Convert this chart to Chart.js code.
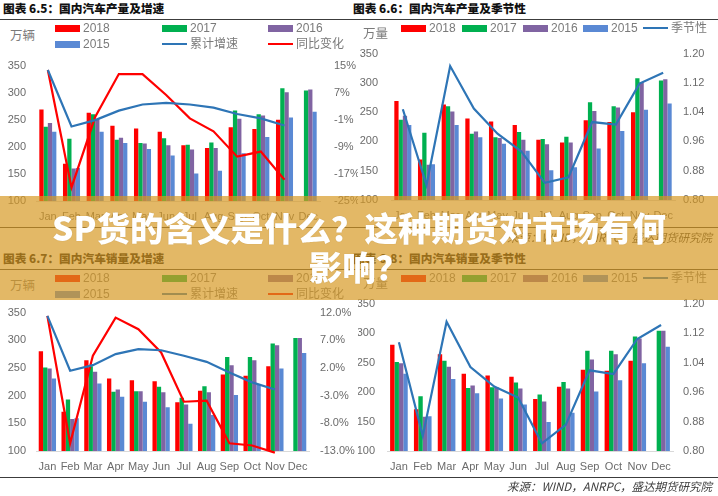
<!DOCTYPE html>
<html><head><meta charset="utf-8">
<script src="https://cdn.jsdelivr.net/npm/chart.js@4.4.1/dist/chart.umd.min.js"></script>
<style>
html,body{margin:0;padding:0;background:#fff;}
#root{position:relative;width:718px;height:496px;overflow:hidden;font-family:"Liberation Sans","Noto Sans CJK SC",sans-serif;}
.abs{position:absolute;white-space:nowrap;}
.title{font-family:"Noto Sans CJK SC",sans-serif;font-weight:900;font-size:11.7px;color:#111;line-height:16px;}
.rule{position:absolute;height:1px;background:#3c3c3c;}
.lg{font-family:"Liberation Sans","Noto Sans CJK SC",sans-serif;font-size:12px;color:#7a7a7a;line-height:14px;}
.unit{font-family:"Noto Sans CJK SC",sans-serif;font-size:12.5px;color:#7a7a7a;line-height:14px;}
.src{font-family:"Noto Sans CJK SC",sans-serif;font-style:italic;font-size:11.5px;color:#404040;line-height:14px;}
canvas.cv{position:absolute;}
#banner{position:absolute;left:0;top:196px;width:718px;height:104px;background:rgba(214,152,33,0.69);z-index:10;}
#bannerText{position:absolute;left:0;top:11px;width:718px;text-align:center;color:#fff;font-family:"Noto Sans CJK SC",sans-serif;font-weight:900;font-size:33.5px;line-height:39px;text-shadow:0 0 1px rgba(120,80,0,0.35);}
</style>
</head>
<body>
<div id="root">
  <canvas id="cA" class="cv"></canvas>
  <canvas id="cB" class="cv"></canvas>
  <canvas id="cC" class="cv"></canvas>
  <canvas id="cD" class="cv"></canvas>
  <div id="banner"><div id="bannerText">SP货的含义是什么？这种期货对市场有何<br>影响？</div></div>
</div>
<script>
// ---------- data ----------
const months = ['Jan','Feb','Mar','Apr','May','Jun','Jul','Aug','Sep','Oct','Nov','Dec'];
const years = ['2018','2017','2016','2015'];
const lineNamesGrowth = ['累计增速','同比变化'];
const lineNameSeason = '季节性';
const titles = ['图表 6.5：国内汽车产量及增速','图表 6.6：国内汽车产量及季节性','图表 6.7：国内汽车销量及增速','图表 6.8：国内汽车销量及季节性'];
const units = ['万辆','万量','万辆','万量'];
const sourceText = '来源：WIND，ANRPC，盛达期货研究院';

// production (万辆)
const prod2018 = [269,169,263,239,234,228,203,198,236,233,250,null];
const prod2017 = [237,215,260,213,207,216,204,208,267,260,308,304];
const prod2016 = [244,160,251,217,206,203,195,198,252,258,301,306];
const prod2015 = [228,161,228,207,196,184,151,156,188,218,254,265];
const prodCumGrowth = [13.7,-3.0,-1.1,1.7,3.5,4.0,3.5,2.6,0.7,-0.6,-2.7,null];
const prodYoY = [13.7,-21.0,-0.2,12.5,12.5,6.3,-0.6,-4.4,-11.9,-10.4,-18.7,null];
const prodSeason = [1.048,0.841,1.166,1.050,0.981,0.933,0.847,0.862,1.013,1.006,1.118,1.148];

// sales (万辆)
const sales2018 = [280,171,264,231,228,226,188,209,238,236,253,null];
const sales2017 = [251,193,253,207,208,216,196,217,270,270,294,304];
const sales2016 = [249,158,243,211,208,206,184,206,255,264,291,304];
const sales2015 = [231,159,222,198,189,179,149,165,201,220,249,277];
const salesCumGrowth = [11.4,1.5,2.5,4.5,5.4,5.2,4.2,3.1,1.2,-0.6,-1.9,null];
const salesYoY = [11.4,-11.6,4.2,11.1,9.0,4.8,-4.1,-3.9,-11.6,-12.0,-13.3,null];
const salesSeason = [1.095,0.841,1.151,1.028,0.975,0.945,0.821,0.871,1.019,1.009,1.104,1.142];

// tick labels
const volTicks = [100,150,200,250,300,350];
const prodPctTicks = [-25,-17,-9,-1,7,15];
const salesPctTicks = [-13,-8,-3,2,7,12];
const seasonTicks = [0.80,0.88,0.96,1.04,1.12,1.20];

// ---------- styling ----------
const C_RED='#FF0000', C_GREEN='#00B050', C_PURPLE='#8064A2', C_BLUE='#5A89D4', C_LINEBLUE='#2E75B6', C_LINERED='#FF0000';
const barColors=[C_RED,C_GREEN,C_PURPLE,C_BLUE];
const tickFont={family:'"Liberation Sans",sans-serif',size:11};
const tickColor='#6b6b6b';
const root=document.getElementById('root');

function addDiv(cls,text,style){const d=document.createElement('div');d.className='abs '+cls;d.textContent=text;Object.assign(d.style,style);root.appendChild(d);return d;}
function addRule(l,t,w){const d=document.createElement('div');d.className='rule';Object.assign(d.style,{left:l+'px',top:t+'px',width:w+'px'});root.appendChild(d);}
function legendItem(x,yc,color,kind,label){
  const sw=document.createElement('div');sw.className='sw abs';
  if(kind==='bar'){Object.assign(sw.style,{left:x+'px',top:(yc-3.5)+'px',width:'25px',height:'7px',background:color});}
  else{Object.assign(sw.style,{left:x+'px',top:(yc-1)+'px',width:'25px',height:'2px',background:color});}
  root.appendChild(sw);
  addDiv('lg',label,{left:(x+28)+'px',top:(yc-7)+'px'});
}

// titles, rules, units, sources
addDiv('title',titles[0],{left:'3px',top:'0px'});
addDiv('title',titles[1],{left:'353px',top:'0px'});
addDiv('title',titles[2],{left:'3px',top:'250px'});
addDiv('title',titles[3],{left:'353px',top:'250px'});
addRule(0,19,718);addRule(0,227,718);addRule(0,269,718);addRule(0,477,718);
addDiv('unit',units[0],{left:'10px',top:'28px'});
addDiv('unit',units[1],{left:'363px',top:'26px'});
addDiv('unit',units[2],{left:'10px',top:'278px'});
addDiv('unit',units[3],{left:'363px',top:'276px'});
addDiv('src',sourceText,{right:'6px',top:'230px'});
addDiv('src',sourceText,{right:'6px',top:'479px'});

// legends
function growthLegend(y0){
  const cols=[55,162,268];
  legendItem(cols[0],y0,C_RED,'bar',years[0]);
  legendItem(cols[1],y0,C_GREEN,'bar',years[1]);
  legendItem(cols[2],y0,C_PURPLE,'bar',years[2]);
  legendItem(cols[0],y0+16,C_BLUE,'bar',years[3]);
  legendItem(cols[1],y0+16,C_LINEBLUE,'line',lineNamesGrowth[0]);
  legendItem(cols[2],y0+16,C_LINERED,'line',lineNamesGrowth[1]);
}
function seasonLegend(y0){
  const xs=[401,462,523,583,643];
  for(let i=0;i<4;i++)legendItem(xs[i],y0,barColors[i],'bar',years[i]);
  legendItem(xs[4],y0,C_LINEBLUE,'line',lineNameSeason);
}
growthLegend(28);seasonLegend(28);growthLegend(278);seasonLegend(278);

// ---------- charts ----------
function makeChart(id,o){
  const cv=document.getElementById(id);
  cv.width=o.w;cv.height=o.h;
  Object.assign(cv.style,{left:o.x+'px',top:o.y+'px',width:o.w+'px',height:o.h+'px'});
  const ds=o.bars.map((d,i)=>({type:'bar',data:d,backgroundColor:barColors[i],borderWidth:0,
      barPercentage:1.0,categoryPercentage:o.cat,yAxisID:'y',order:2}));
  o.lines.forEach(l=>ds.push({type:'line',data:l.data,borderColor:l.color,borderWidth:2.2,pointRadius:0,
      fill:false,tension:0,yAxisID:'y1',order:0,clip:false}));
  new Chart(cv,{
    data:{labels:months,datasets:ds},
    options:{
      responsive:false,animation:false,devicePixelRatio:1,
      layout:{padding:{top:o.padTop,left:0,right:0,bottom:0}},
      plugins:{legend:{display:false},tooltip:{enabled:false}},
      scales:{
        x:{offset:true,grid:{display:false,drawTicks:false},border:{display:true,color:'#D9D9D9',width:1},
           ticks:{font:tickFont,color:tickColor,padding:9,maxRotation:0,autoSkip:false},
           afterFit(s){s.height=30;}},
        y:{position:'left',min:volTicks[0],max:volTicks[volTicks.length-1],
           grid:{display:false,drawTicks:false},border:{display:false},
           ticks:{font:tickFont,color:tickColor,padding:o.lp},
           afterBuildTicks(s){s.ticks=volTicks.map(v=>({value:v}));},
           afterFit(s){s.width=o.lw;}},
        y1:{position:'right',min:o.rt[0],max:o.rt[o.rt.length-1],
           grid:{display:false,drawTicks:false},border:{display:false},
           ticks:{font:tickFont,color:tickColor,padding:o.rp,callback:o.fmt},
           afterBuildTicks(s){s.ticks=o.rt.map(v=>({value:v}));},
           afterFit(s){s.width=o.rw;}}
      }
    }
  });
}
const pctFmt0=v=>Math.round(v)+'%';
const pctFmt1=v=>Number(v).toFixed(1)+'%';
const decFmt=v=>Number(v).toFixed(2);

makeChart('cA',{x:0,y:45,w:358,h:186,padTop:12,lw:36,rw:38,lp:10,rp:14,cat:0.72,
  bars:[prod2018,prod2017,prod2016,prod2015],
  lines:[{data:prodCumGrowth,color:C_LINEBLUE},{data:prodYoY,color:C_LINERED}],
  rt:prodPctTicks,fmt:pctFmt0});
makeChart('cB',{x:358,y:34,w:360,h:196,padTop:10,lw:33,rw:43,lp:13,rp:8,cat:0.72,
  bars:[prod2018,prod2017,prod2016,prod2015],
  lines:[{data:prodSeason,color:C_LINEBLUE}],
  rt:seasonTicks,fmt:decFmt});
makeChart('cC',{x:0,y:295,w:358,h:186,padTop:12,lw:36,rw:49,lp:10,rp:11,cat:0.76,
  bars:[sales2018,sales2017,sales2016,sales2015],
  lines:[{data:salesCumGrowth,color:C_LINEBLUE},{data:salesYoY,color:C_LINERED}],
  rt:salesPctTicks,fmt:pctFmt1});
makeChart('cD',{x:358,y:285,w:360,h:196,padTop:11,lw:29,rw:45,lp:12,rp:10,cat:0.74,
  bars:[sales2018,sales2017,sales2016,sales2015],
  lines:[{data:salesSeason,color:C_LINEBLUE}],
  rt:seasonTicks,fmt:decFmt});
</script>
</body></html>
